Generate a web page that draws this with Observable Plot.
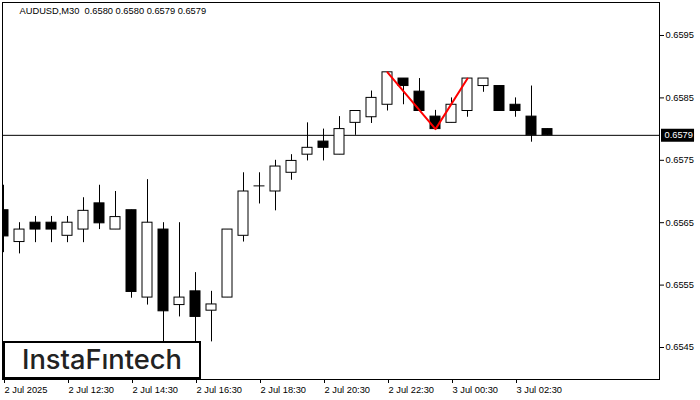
<!DOCTYPE html>
<html>
<head>
<meta charset="utf-8">
<script src="https://cdn.jsdelivr.net/npm/d3@7"></script>
<script src="https://cdn.jsdelivr.net/npm/@observablehq/plot@0.6"></script>
<style>
  html, body { margin: 0; padding: 0; background: #fff; }
  #chart svg { display: block; }
</style>
</head>
<body>
<div id="chart"></div>
<script>
// ---- data ----
const titleText = "AUDUSD,M30  0.6580 0.6580 0.6579 0.6579";
const opens  = [0.65670,0.65619,0.65650,0.65650,0.65629,0.65639,0.65681,0.65639,0.65670,0.65530,0.65639,0.65518,0.65540,0.65509,0.65530,0.65629,0.65709,0.65700,0.65730,0.65759,0.65780,0.65759,0.65810,0.65819,0.65839,0.65881,0.65860,0.65820,0.65810,0.65829,0.65869,0.65869,0.65839,0.65820,0.65800];
const highs  = [0.65710,0.65650,0.65660,0.65660,0.65660,0.65690,0.65710,0.65700,0.65670,0.65719,0.65650,0.65650,0.65570,0.65540,0.65639,0.65730,0.65730,0.65750,0.65759,0.65810,0.65800,0.65820,0.65829,0.65861,0.65891,0.65881,0.65881,0.65830,0.65850,0.65881,0.65881,0.65869,0.65850,0.65869,0.65800];
const lows   = [0.65602,0.65600,0.65618,0.65618,0.65618,0.65618,0.65639,0.65639,0.65529,0.65518,0.65458,0.65499,0.65458,0.65459,0.65530,0.65619,0.65680,0.65669,0.65718,0.65749,0.65749,0.65759,0.65790,0.65809,0.65829,0.65839,0.65829,0.65800,0.65810,0.65819,0.65859,0.65829,0.65819,0.65779,0.65790];
const closes = [0.65628,0.65639,0.65639,0.65639,0.65650,0.65669,0.65649,0.65659,0.65539,0.65650,0.65508,0.65530,0.65499,0.65519,0.65639,0.65700,0.65709,0.65740,0.65749,0.65770,0.65770,0.65800,0.65829,0.65850,0.65891,0.65869,0.65829,0.65800,0.65839,0.65881,0.65881,0.65829,0.65829,0.65790,0.65790];
const timeTickIdx = [0, 4, 8, 12, 16, 20, 24, 28, 32];
const timeLabels = ["2 Jul 2025","2 Jul 12:30","2 Jul 14:30","2 Jul 16:30","2 Jul 18:30","2 Jul 20:30","2 Jul 22:30","3 Jul 00:30","3 Jul 02:30"];
const priceTicks = [0.6545, 0.6555, 0.6565, 0.6575, 0.6585, 0.6595];
const patternIdx = [24, 27, 29];
const patternPrice = [0.65891, 0.65800, 0.65881];
const lastPrice = 0.6579;
const logoText = "InstaFıntech";

// ---- build table ----
const candles = opens.map((o, i) => ({i, open: o, high: highs[i], low: lows[i], close: closes[i]}));
const pattern = patternIdx.map((i, k) => ({i, p: patternPrice[k]}));
const hw = 0.3125;
const font = "'Liberation Sans', Arial, sans-serif";
const fs = 9.3;

const chart = Plot.plot({
  width: 700,
  height: 400,
  marginLeft: 2,
  marginRight: 41,
  marginTop: 2,
  marginBottom: 21,
  style: {background: "#fff", fontFamily: font, fontSize: fs + "px", color: "#000", overflow: "visible"},
  x: {type: "linear", domain: [-0.0625, 41], axis: null, label: null},
  y: {type: "linear", domain: [0.6539872, 0.6600288], axis: null, label: null},
  marks: [
    Plot.ruleY([lastPrice], {stroke: "#000", strokeWidth: 1}),
    Plot.ruleX(candles, {x: "i", y1: "low", y2: "high", stroke: "#000", strokeWidth: 1, clip: true}),
    Plot.rect(candles.filter(d => d.open !== d.close), {
      x1: d => d.i - hw, x2: d => d.i + hw, y1: "open", y2: "close",
      fill: d => d.close > d.open ? "#fff" : "#000", stroke: "#000", strokeWidth: 1, clip: true
    }),
    Plot.ruleY(candles.filter(d => d.open === d.close), {
      y: "close", x1: d => d.i - hw - 0.03, x2: d => d.i + hw + 0.03, stroke: "#000", strokeWidth: 1
    }),
    Plot.line(pattern, {x: "i", y: "p", stroke: "#ff0000", strokeWidth: 2}),
    Plot.frame({stroke: "#000", strokeWidth: 1}),
    Plot.axisY({
      anchor: "right", ticks: priceTicks, tickSize: 4, tickPadding: 2, label: null,
      tickFormat: d3.format(".4f"), fill: "#000", stroke: "#000", fontSize: fs
    }),
    Plot.axisX({
      anchor: "bottom", ticks: timeTickIdx, tickSize: 4, tickPadding: 3, label: null,
      tickFormat: d => timeLabels[timeTickIdx.indexOf(d)], textAnchor: "start", dx: 1,
      fill: "#000", stroke: "#000", fontSize: fs
    }),
    // current price tag on the price axis
    Plot.ruleY([lastPrice], {y: d => d, x1: 41.125, x2: 43.19, stroke: "#000", strokeWidth: 13}),
    Plot.text([lastPrice], {
      x: 41.125, y: d => d, dx: 3, text: d => d3.format(".4f")(d), textAnchor: "start",
      fill: "#fff", fontSize: fs
    }),
    Plot.text([titleText], {
      frameAnchor: "top-left", dx: 17, dy: 9, text: d => d, textAnchor: "start",
      lineAnchor: "middle", fill: "#000", fontSize: fs
    })
  ]
});

document.getElementById("chart").appendChild(chart);

// logo box
const svg = d3.select(chart);
const lg = svg.append("g");
lg.append("rect").attr("x", 4).attr("y", 342).attr("width", 196).attr("height", 36)
  .attr("fill", "#fff").attr("stroke", "#000").attr("stroke-width", 2);
const lt = lg.append("text").attr("x", 22).attr("y", 369).attr("fill", "#222")
  .attr("text-anchor", "start")
  .style("font-family", "Inter, 'Noto Sans', sans-serif").style("font-weight", "500").style("font-size", "26px")
  .text(logoText);
const w = lt.node().getComputedTextLength();
if (w > 0) lt.style("font-size", (26 * 160 / w).toFixed(2) + "px");
</script>
</body>
</html>
